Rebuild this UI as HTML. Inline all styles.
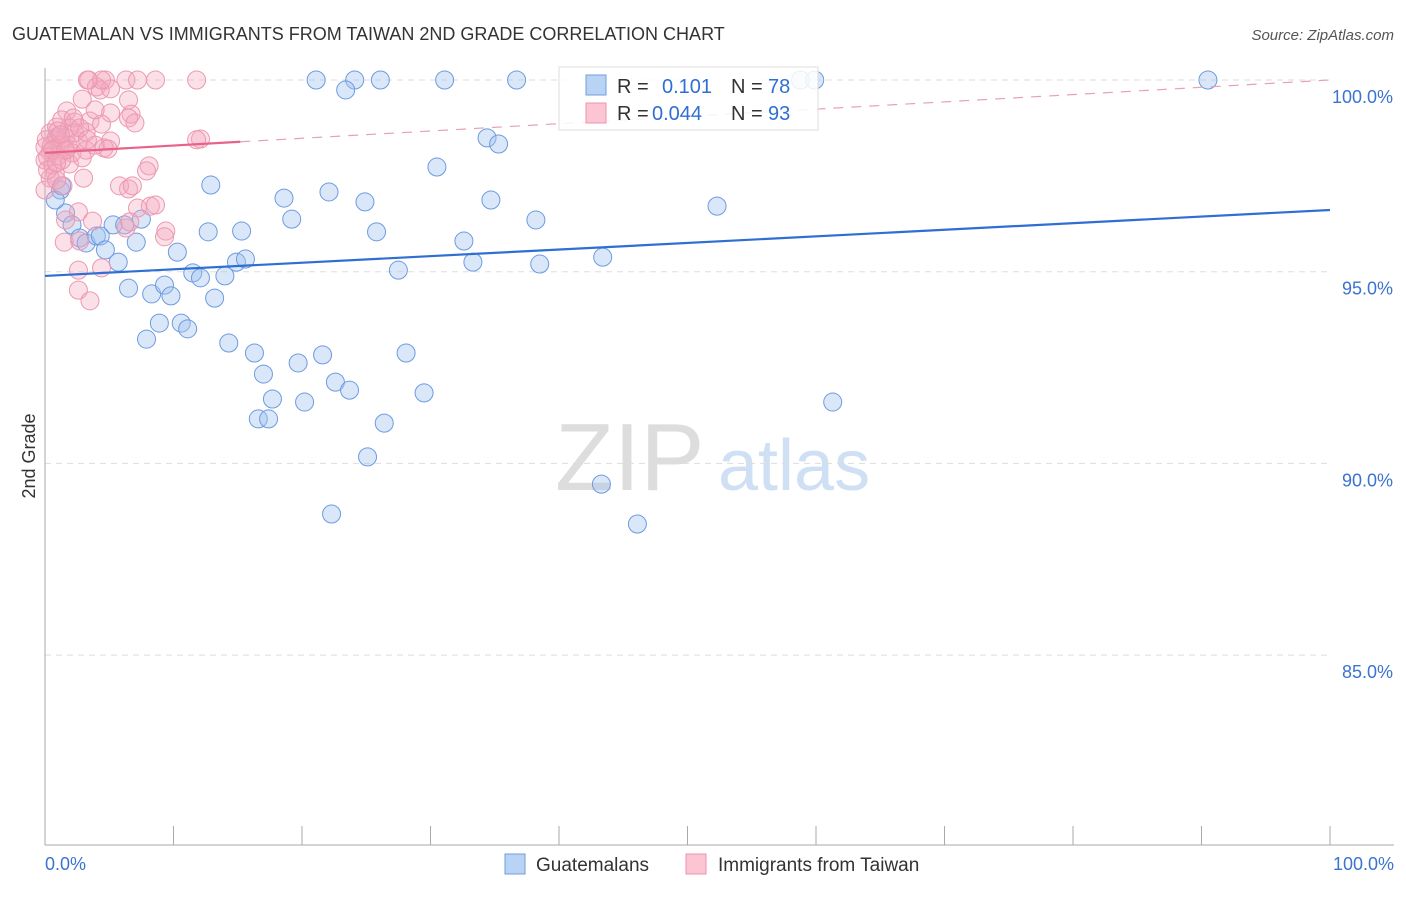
<!DOCTYPE html>
<html><head><meta charset="utf-8"><style>
body{margin:0;background:#fff;font-family:"Liberation Sans",sans-serif}
svg text{font-family:"Liberation Sans",sans-serif}
</style></head><body>
<svg id="chart" width="1406" height="892" xmlns="http://www.w3.org/2000/svg">
<text x="12" y="40" font-size="18" fill="#333">GUATEMALAN VS IMMIGRANTS FROM TAIWAN 2ND GRADE CORRELATION CHART</text>
<text x="1394" y="40" font-size="15" fill="#555" text-anchor="end" font-style="italic">Source: ZipAtlas.com</text>
<text x="555" y="490" font-size="96" fill="#ddd" font-family="Liberation Serif">ZIP</text>
<text x="718" y="490" font-size="72" fill="#cfe0f5">atlas</text>
<text x="35" y="456" font-size="18" fill="#333" text-anchor="middle" transform="rotate(-90 35 456)">2nd Grade</text>
<g id="grid"></g><g id="axes"></g><g id="pts"></g><g id="lines"></g>
<g>
<rect x="559" y="67" width="259" height="63" fill="#fff" fill-opacity="0.85" stroke="#ddd"/>
<rect x="586" y="75" width="20" height="20" fill="#b9d3f5" stroke="#6f9ee0"/>
<rect x="586" y="103" width="20" height="20" fill="#fbc5d4" stroke="#ec93ae"/>
<text x="617" y="93" font-size="20" fill="#333">R =</text>
<text x="662" y="93" font-size="20" fill="#2f6fd4">0.101</text>
<text x="731" y="93" font-size="20" fill="#333">N =</text>
<text x="768" y="93" font-size="20" fill="#2f6fd4">78</text>
<text x="617" y="120" font-size="20" fill="#333">R =</text>
<text x="652" y="120" font-size="20" fill="#2f6fd4">0.044</text>
<text x="731" y="120" font-size="20" fill="#333">N =</text>
<text x="768" y="120" font-size="20" fill="#2f6fd4">93</text>
</g>
<g>
<rect x="505" y="854" width="20" height="20" fill="#b9d3f5" stroke="#6f9ee0"/>
<text x="536" y="871" font-size="19" fill="#333">Guatemalans</text>
<rect x="686" y="854" width="20" height="20" fill="#fbc5d4" stroke="#ec93ae"/>
<text x="718" y="871" font-size="19" fill="#333">Immigrants from Taiwan</text>
</g>
</svg>
<script>
const yTicks=[100,95,90,85];
const yTickLabels=["100.0%","95.0%","90.0%","85.0%"];
const xEndLabels=["0.0%","100.0%"];
const blueX=[21.1,24.1,26.1,31.1,36.7,58.8,59.9,90.5,23.4,34.4,35.3,30.5,12.9,18.6,22.1,24.9,34.7,52.3,38.2,19.2,1.6,2.1,5.3,7.5,6.2,12.7,15.3,25.8,32.6,1.2,0.9,2.7,3.2,4.0,4.3,4.7,5.7,7.1,10.3,14.9,15.6,33.3,38.5,43.4,27.5,11.5,12.1,14.0,6.5,8.3,9.3,9.8,13.2,8.9,10.6,11.1,7.9,14.3,16.3,19.7,21.6,28.1,17.0,22.6,23.7,17.7,20.2,29.5,61.3,16.6,17.4,26.4,25.1,43.3,22.3,46.1,0.8,1.3];
const blueY=[100,100,100,100,100,100,100,100,99.74,98.49,98.33,97.73,97.26,96.92,97.08,96.82,96.87,96.71,96.35,96.37,96.53,96.22,96.22,96.37,96.22,96.04,96.06,96.04,95.80,97.13,98.51,95.88,95.75,95.93,95.93,95.57,95.25,95.77,95.51,95.25,95.33,95.25,95.20,95.38,95.04,94.97,94.84,94.89,94.57,94.42,94.65,94.37,94.31,93.66,93.66,93.51,93.24,93.14,92.88,92.62,92.83,92.88,92.33,92.12,91.91,91.68,91.60,91.84,91.60,91.16,91.16,91.05,90.17,89.46,88.68,88.42,96.87,97.24];
const pinkX=[3.3,4.7,6.3,7.2,8.6,11.8,4.0,4.3,5.1,6.5,2.9,1.7,5.1,6.7,6.5,7.0,0.9,2.3,1.3,3.5,4.4,1.9,0.4,0.8,1.2,1.6,2.6,3.2,5.1,0,0.4,1.0,1.6,2.1,4.6,4.9,3.2,12.1,11.8,0,0.6,1.9,0.8,3.0,8.1,7.9,0.4,1.4,5.8,6.5,6.8,0,7.2,8.2,8.6,2.6,3.7,1.6,6.3,6.6,9.4,9.3,1.5,2.7,2.6,4.4,2.6,3.5,0.2,0.5,1.0,2.2,3.9,1.3,1.8,2.3,2.7,0.2,0.9,3.9,0.1,2.9,1.2,3.3,0.6,3.4,4.4,1.6,0.9];
const pinkY=[100,100,100,100,100,100,99.82,99.74,99.77,99.48,99.50,99.19,99.14,99.11,99.01,98.88,98.77,98.90,98.96,98.93,98.85,98.75,98.62,98.44,98.30,98.49,98.41,98.64,98.41,98.25,98.12,98.02,98.17,98.10,98.23,98.20,98.17,98.46,98.44,97.91,97.78,97.81,97.57,97.44,97.76,97.63,97.44,97.24,97.24,97.16,97.24,97.13,96.66,96.71,96.74,96.56,96.32,96.35,96.14,96.30,96.06,95.91,95.77,95.80,95.04,95.10,94.52,94.24,97.99,98.30,98.67,99.01,99.22,97.91,98.30,98.62,98.75,97.65,97.39,98.30,98.44,97.97,98.57,98.44,98.17,100,100,98.17,97.84];
const blueTrend=[94.89,96.61];
const pinkTrend=[98.10,100.0];
const pinkSolidEnd=15.2;

const NS="http://www.w3.org/2000/svg";
const X=v=>45+v*12.85;
const Y=v=>80+(100-v)*38.34;
function mk(tag,attrs,parent){const e=document.createElementNS(NS,tag);for(const k in attrs)e.setAttribute(k,attrs[k]);document.getElementById(parent).appendChild(e);return e;}
yTicks.forEach((t,i)=>{
  const g=mk('line',{x1:45,x2:1330,y1:Y(t),y2:Y(t),stroke:'#ddd','stroke-dasharray':'6,5'},'grid');
  
  
  const l=mk('text',{x:1393,y:Y(t)+23,'font-size':18,fill:'#3b73d0','text-anchor':'end'},'grid');
  l.textContent=yTickLabels[i];
  
  
});
const ya=mk('line',{x1:45,x2:45,y1:68,y2:845,stroke:'#aaa'},'axes');


const xa=mk('line',{x1:45,x2:1394,y1:845,y2:845,stroke:'#aaa'},'axes');


for(let i=0;i<=10;i++){
  const t=mk('line',{x1:X(i*10),x2:X(i*10),y1:826,y2:845,stroke:'#aaa'},'axes');
  
  
}
[[0,'start',45],[1,'end',1394]].forEach(([i,a,x])=>{
  const t=mk('text',{x:x,y:870,'font-size':18,fill:'#3b73d0','text-anchor':a},'axes');
  t.textContent=xEndLabels[i];
  
  
});
blueX.forEach((v,i)=>{
  const c=mk('circle',{cx:X(v),cy:Y(blueY[i]),r:9,fill:'rgba(160,196,240,0.4)',stroke:'#6d9be0','stroke-width':1},'pts');
  
  
});
pinkX.forEach((v,i)=>{
  const c=mk('circle',{cx:X(v),cy:Y(pinkY[i]),r:9,fill:'rgba(244,165,190,0.35)',stroke:'#ec98b1','stroke-width':1},'pts');
  
  
});
const bl=mk('line',{x1:X(0),y1:Y(blueTrend[0]),x2:X(100),y2:Y(blueTrend[1]),stroke:'#2f6fd4','stroke-width':2.2},'lines');


const pm=pinkTrend[0]+(pinkTrend[1]-pinkTrend[0])*pinkSolidEnd/100;
const ps=mk('line',{x1:X(0),y1:Y(pinkTrend[0]),x2:X(pinkSolidEnd),y2:Y(pm),stroke:'#e8628a','stroke-width':2.2},'lines');


const pd=mk('line',{x1:X(pinkSolidEnd),y1:Y(pm),x2:X(100),y2:Y(pinkTrend[1]),stroke:'#e8a0b5','stroke-width':1.2,'stroke-dasharray':'10,8'},'lines');


</script>
</body></html>
